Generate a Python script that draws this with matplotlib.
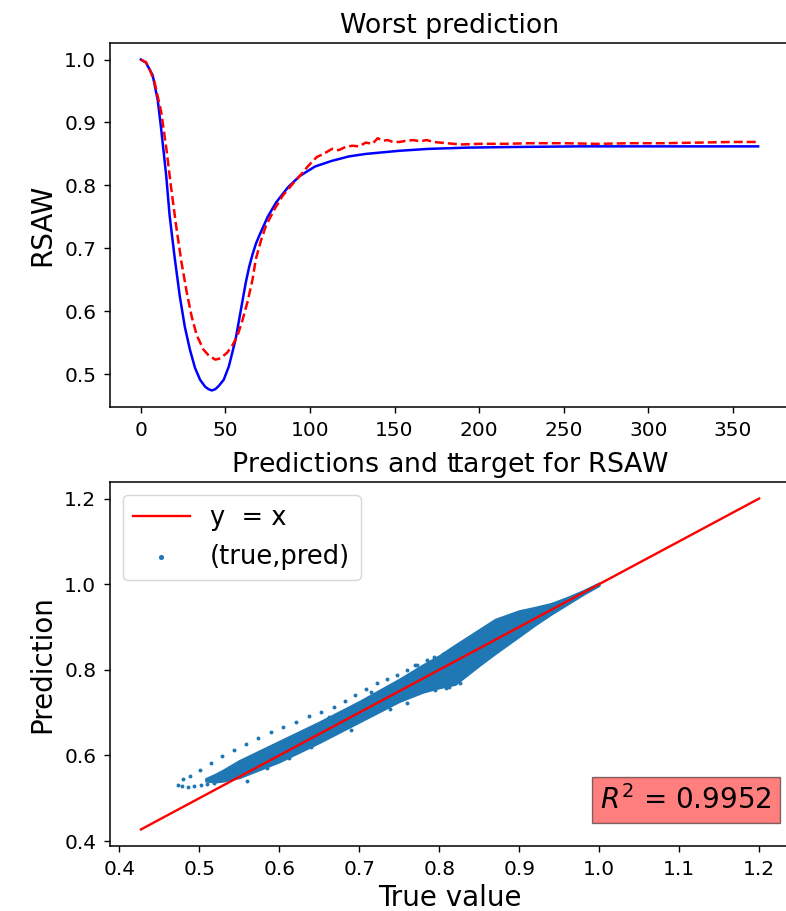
import matplotlib
matplotlib.use("Agg")
import matplotlib.pyplot as plt
import numpy as np

# ---------------- data: top panel (worst prediction) ----------------
days_true = [0, 3, 7, 10, 12, 15, 17, 20, 23, 26, 29, 32, 35, 38, 40, 42, 44, 46, 49, 52,
             56, 59, 62, 64, 66, 68, 70, 72, 75, 80, 87, 94, 103, 113, 123, 133, 145, 153,
             170, 193, 220, 260, 300, 340, 365]
rsaw_true = [1.000, 0.995, 0.975, 0.935, 0.890, 0.815, 0.752, 0.685, 0.624, 0.575, 0.539,
             0.510, 0.491, 0.480, 0.476, 0.474, 0.476, 0.481, 0.491, 0.512, 0.555, 0.600,
             0.645, 0.670, 0.690, 0.707, 0.720, 0.732, 0.750, 0.773, 0.797, 0.815, 0.830,
             0.839, 0.846, 0.850, 0.853, 0.855, 0.858, 0.860, 0.861, 0.862, 0.862, 0.862,
             0.862]

days_pred = [0, 3, 5, 8, 12, 15, 18, 21, 24, 27, 30, 33, 37, 40, 44, 47, 51, 54, 57, 60,
             63, 66, 68, 71, 74, 79, 84, 89, 94, 99, 104, 108, 113, 117, 121, 125, 129,
             133, 137, 140, 143, 146, 149, 153, 157, 161, 165, 169, 173, 177, 181, 189,
             200, 215, 230, 250, 270, 290, 310, 330, 350, 365]
rsaw_pred = [1.000, 0.996, 0.986, 0.965, 0.917, 0.860, 0.794, 0.733, 0.678, 0.632, 0.592,
             0.562, 0.539, 0.530, 0.523, 0.525, 0.534, 0.545, 0.560, 0.585, 0.614, 0.650,
             0.683, 0.712, 0.736, 0.762, 0.784, 0.800, 0.815, 0.831, 0.845, 0.850, 0.858,
             0.856, 0.861, 0.863, 0.862, 0.868, 0.866, 0.875, 0.871, 0.872, 0.869, 0.869,
             0.871, 0.872, 0.870, 0.872, 0.869, 0.868, 0.867, 0.865, 0.866, 0.866, 0.867,
             0.867, 0.866, 0.867, 0.867, 0.868, 0.869, 0.869]

top_xticks = [0, 50, 100, 150, 200, 250, 300, 350]
top_yticks = [0.5, 0.6, 0.7, 0.8, 0.9, 1.0]

# ---------------- data: bottom panel (predictions vs target) ----------------
identity_x = [0.427, 1.2]
identity_y = [0.427, 1.2]

# dense cloud envelope: true value, lower and upper prediction
band_true = [0.508, 0.52, 0.53, 0.55, 0.60, 0.65, 0.70, 0.75, 0.78, 0.80, 0.82, 0.85,
             0.87, 0.90, 0.92, 0.94, 0.96, 0.98, 1.00]
band_low = [0.540, 0.538, 0.540, 0.548, 0.585, 0.630, 0.678, 0.726, 0.748, 0.758, 0.766,
            0.810, 0.838, 0.878, 0.905, 0.930, 0.953, 0.976, 0.997]
band_high = [0.546, 0.556, 0.566, 0.588, 0.633, 0.678, 0.726, 0.778, 0.812, 0.833, 0.858,
             0.894, 0.918, 0.938, 0.946, 0.955, 0.969, 0.985, 1.003]

# individual (true, pred) points outside the dense cloud
pts_true = [0.474, 0.480, 0.488, 0.501, 0.515, 0.529, 0.543, 0.558, 0.574, 0.590, 0.605,
            0.621, 0.637, 0.652, 0.668, 0.682, 0.695, 0.709, 0.722, 0.735, 0.747, 0.760,
            0.772, 0.785,
            0.478, 0.486, 0.494, 0.502, 0.510, 0.518,
            0.560, 0.585, 0.612, 0.640, 0.662, 0.690, 0.715, 0.738, 0.770, 0.793, 0.805,
            0.812, 0.826, 0.760, 0.795, 0.808]
pts_pred = [0.532, 0.545, 0.553, 0.567, 0.583, 0.598, 0.613, 0.627, 0.641, 0.654, 0.667,
            0.679, 0.691, 0.702, 0.714, 0.728, 0.741, 0.755, 0.768, 0.778, 0.788, 0.800,
            0.812, 0.822,
            0.528, 0.527, 0.528, 0.530, 0.533, 0.536,
            0.540, 0.570, 0.595, 0.620, 0.690, 0.660, 0.748, 0.708, 0.811, 0.830, 0.838,
            0.760, 0.768, 0.722, 0.752, 0.758]

bot_ticks_x = [0.4, 0.5, 0.6, 0.7, 0.8, 0.9, 1.0, 1.1, 1.2]
bot_ticks_y = [0.4, 0.6, 0.8, 1.0, 1.2]
r2_value = 0.9952

# ---------------- figure ----------------
W, H = 786, 911
fig = plt.figure(figsize=(W / 100, H / 100), dpi=100)

tick_fs = 14.5
for k in ["xtick", "ytick"]:
    plt.rcParams[f"{k}.labelsize"] = tick_fs
    plt.rcParams[f"{k}.major.size"] = 4.3
    plt.rcParams[f"{k}.major.width"] = 1.0
    plt.rcParams[f"{k}.major.pad"] = 5.5
plt.rcParams["axes.linewidth"] = 1.1
plt.rcParams["mathtext.fontset"] = "dejavusans"

def px_axes(l, t, r, b):
    return [l / W, (H - b) / H, (r - l) / W, (b - t) / H]

ax1 = fig.add_axes(px_axes(110, 43, 789, 407))
ax1.plot(days_true, rsaw_true, color="blue", lw=1.8)
ax1.plot(days_pred, rsaw_pred, color="red", lw=1.8, ls="--", dashes=(3.6, 1.6))
ax1.set_xticks(top_xticks)
ax1.set_yticks(top_yticks)
ax1.set_title("Worst prediction", fontsize=19.3, pad=7)
ax1.set_ylabel("RSAW", fontsize=20, labelpad=6)

ax2 = fig.add_axes(px_axes(110, 482, 790, 846))
ax2.plot(identity_x, identity_y, color="red", lw=1.7, label="y  = x", zorder=3)
ax2.fill_between(band_true, band_low, band_high, color="#1f77b4", lw=1.5,
                 edgecolor="#1f77b4", zorder=2)
ax2.scatter(pts_true, pts_pred, s=8, color="#1f77b4", linewidths=0,
            label="(true,pred)", zorder=2)
ax2.set_xticks(bot_ticks_x)
ax2.set_yticks(bot_ticks_y)
ax2.set_title(r"Predictions and t$\!$target for RSAW", fontsize=19.3, pad=7)
ax2.set_xlabel("True value", fontsize=20)
ax2.set_ylabel("Prediction", fontsize=20, labelpad=6)
ax2.legend(loc="upper left", fontsize=18.5, markerscale=1.3, handlelength=2.2)
ax2.text(0.973, 0.085, rf"$R^2$ = {r2_value:.4f}", transform=ax2.transAxes,
         ha="right", va="bottom", fontsize=20,
         bbox=dict(boxstyle="square,pad=0.3", facecolor="red", alpha=0.5))

fig.savefig("out.png", dpi=100)
